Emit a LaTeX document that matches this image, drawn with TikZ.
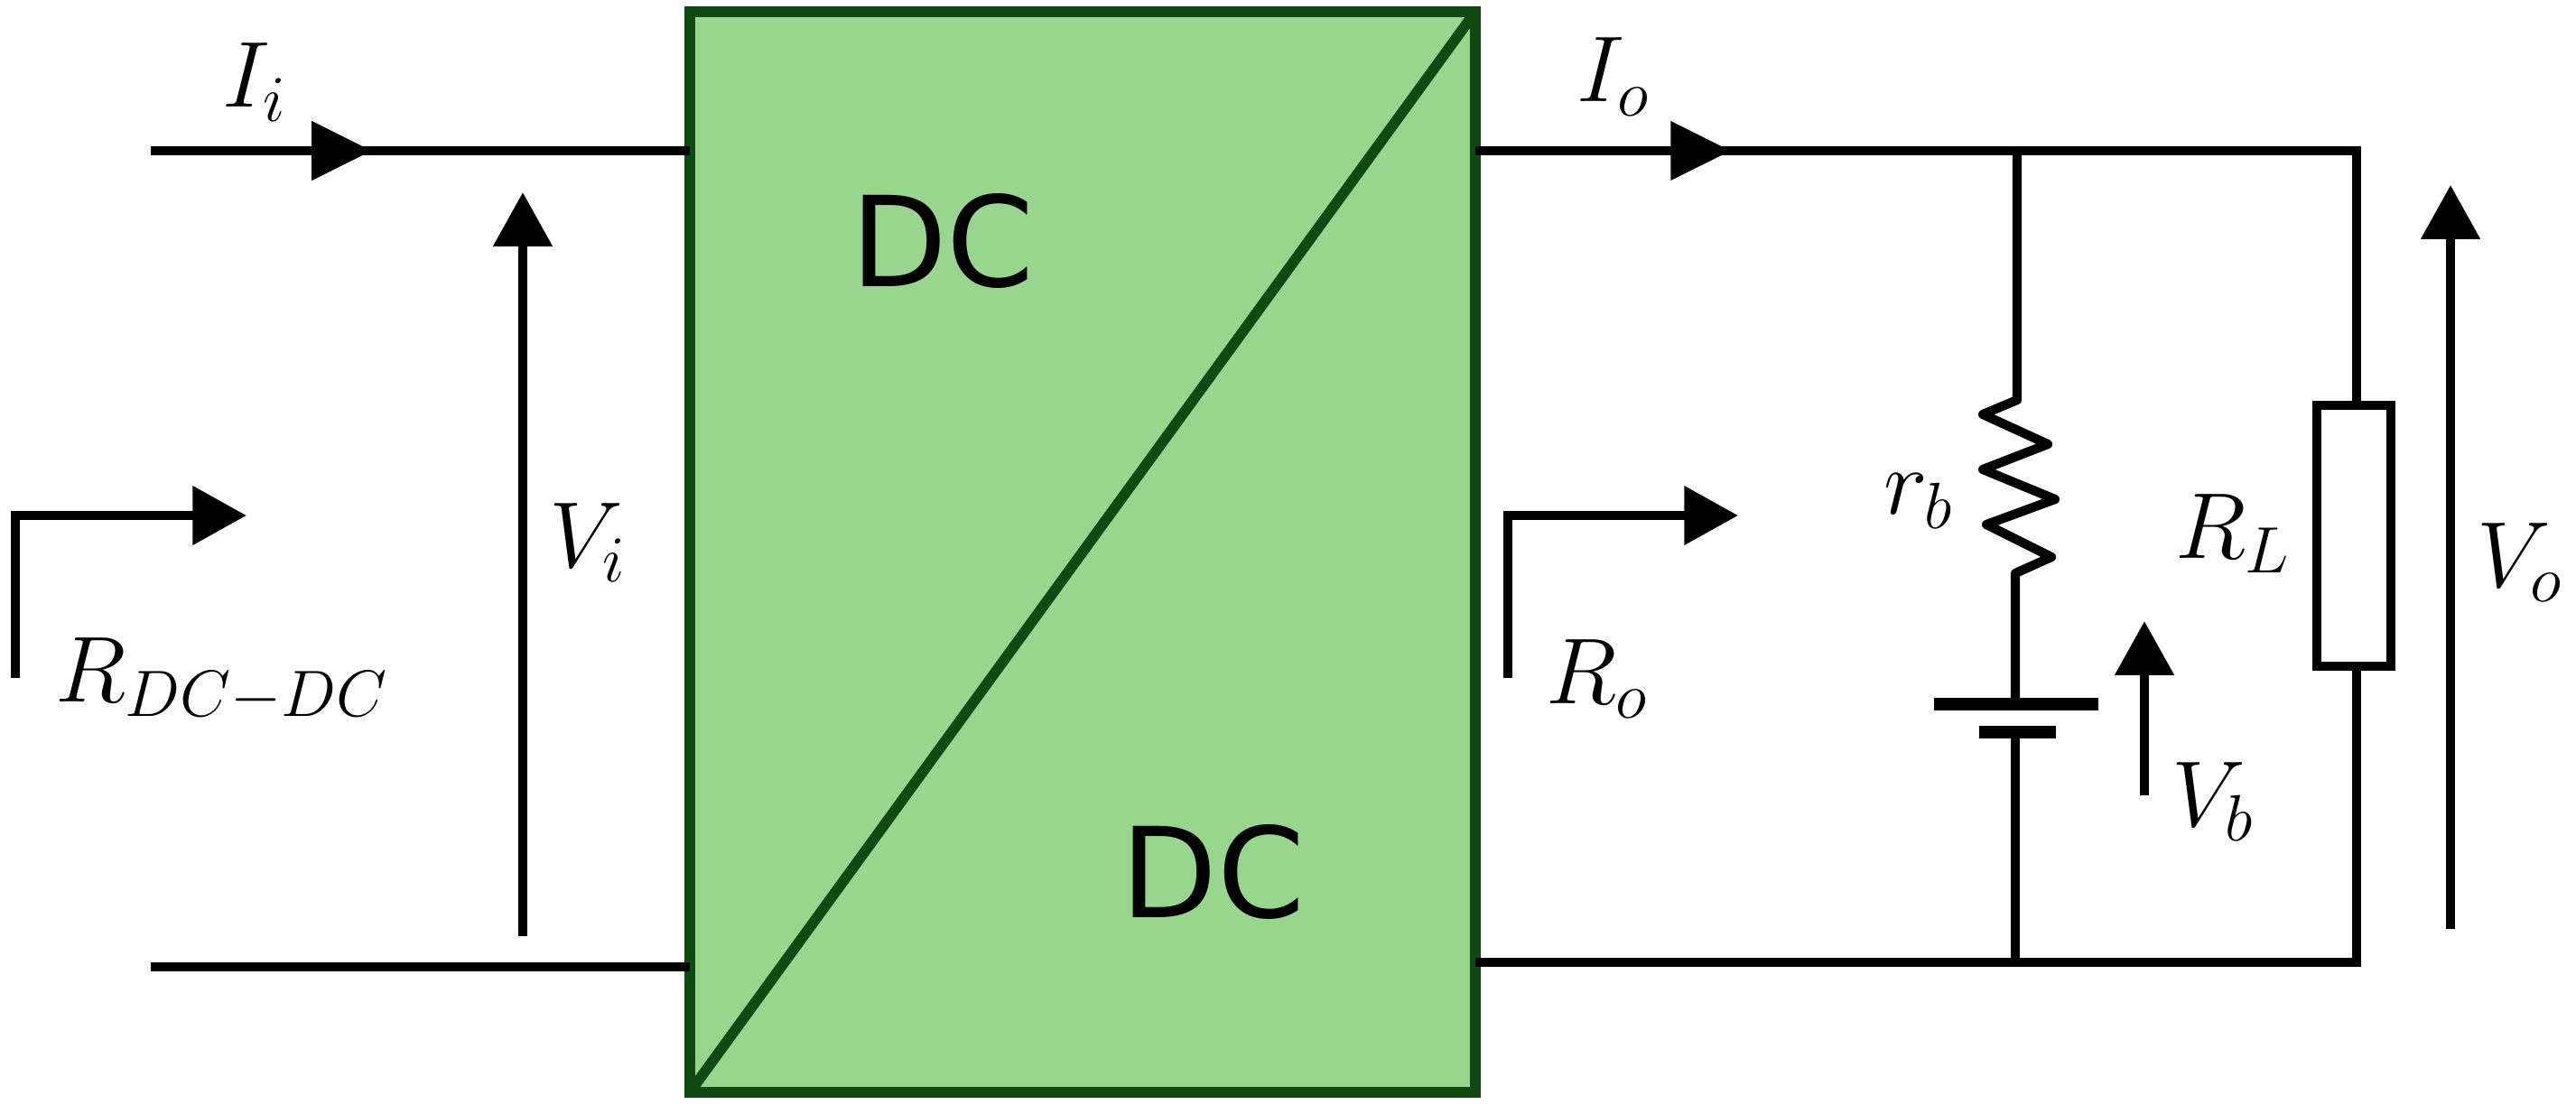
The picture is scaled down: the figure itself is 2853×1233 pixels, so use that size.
\RequirePackage{fix-cm}
\documentclass[tikz,border=0pt]{standalone}
\usepackage{fontspec}
\setmainfont{DejaVu Sans}
\usetikzlibrary{arrows.meta}
\definecolor{boxfill}{HTML}{98D58D}
\definecolor{boxline}{HTML}{0E4A12}
\tikzset{
  x=0.1mm,y=-0.1mm,
  wire/.style={line width=2.9pt,black,line join=miter},
  arrowline/.style={wire,-{Triangle[length=17pt,width=18pt]}},
  midarrow/.style={wire,-{Triangle[length=19pt,width=18pt]}},
  block/.style={draw=boxline,line width=3.2pt,fill=boxfill},
  diag/.style={draw=boxline,line width=3.3pt},
  plate/.style={line width=4.2pt,black},
  lbl/.style={inner sep=0pt,font=\fontsize{29.5}{34}\selectfont},
  dclbl/.style={inner sep=0pt,font=\fontsize{39.5}{46}\selectfont}
}
\begin{document}
\begin{tikzpicture}
\useasboundingbox (0,0) rectangle (2853,1233);
% converter block
\coordinate (bl) at (764,1210);
\coordinate (tr) at (1634,13);
\path[block] (bl) rectangle (tr);
\draw[diag] (bl) -- (tr);
\node[dclbl] (dc1) at (1044,267) {DC};
\node[dclbl] (dc2) at (1343,966) {DC};
% input wires
\coordinate (inT) at (167,167);
\coordinate (inTa) at (412,167);
\coordinate (inTc) at (385,167);
\coordinate (inTb) at (764,167);
\coordinate (inB) at (167,1071);
\coordinate (inBb) at (764,1071);
\draw[midarrow] (inT) -- (inTa);
\draw[wire] (inTc) -- (inTb);
\draw[wire] (inB) -- (inBb);
% Vi
\coordinate (viS) at (579,1037);
\coordinate (viE) at (579,213);
\draw[arrowline] (viS) -- (viE);
% R_DC-DC
\coordinate (rdS) at (17,751);
\coordinate (rdC) at (17,571);
\coordinate (rdE) at (273,571);
\draw[arrowline] (rdS) -- (rdC) -- (rdE);
% output wires
\coordinate (outT) at (1634,167);
\coordinate (outTa) at (1917,167);
\coordinate (outTc) at (1890,167);
\coordinate (jT) at (2234,167);
\coordinate (cTR) at (2610,167);
\coordinate (cBR) at (2610,1066);
\coordinate (jB) at (2232,1066);
\coordinate (outB) at (1634,1066);
\draw[midarrow] (outT) -- (outTa);
\draw[wire] (outTc) -- (jT) -- (cTR) -- (2610,447);
\draw[wire] (2610,736) -- (cBR) -- (jB) -- (outB);
% Ro
\coordinate (roS) at (1670,751);
\coordinate (roC) at (1670,571);
\coordinate (roE) at (1925,571);
\draw[arrowline] (roS) -- (roC) -- (roE);
% rb branch
\draw[wire,line join=round] (jT) -- (2234,443) -- (2196,459) -- (2268,492) -- (2196,520) -- (2276,553) -- (2200,581) -- (2272,617) -- (2232,635) -- (2232,780);
\draw[plate] (2142,780) -- (2324,780);
\draw[plate] (2192,811) -- (2277,811);
\draw[wire] (2232,811) -- (jB);
% RL
\node[draw=black,line width=2.8pt,fill=white,inner sep=0pt,anchor=north west,
  minimum width=8.2mm,minimum height=28.9mm] (rl) at (2561,444) {};
% Vb, Vo
\coordinate (vbS) at (2375,881);
\coordinate (vbE) at (2375,688);
\draw[arrowline] (vbS) -- (vbE);
\coordinate (voS) at (2714,1029);
\coordinate (voE) at (2714,205);
\draw[arrowline] (voS) -- (voE);
% labels
\node[lbl] (li) at (282,91) {$I_i$};
\node[lbl] (lvi) at (651,601) {$V_i$};
\node[lbl] (lrd) at (246,753) {$R_{DC-DC}$};
\node[lbl] (lio) at (1787,85) {$I_o$};
\node[lbl] (lro) at (1769,752) {$R_o$};
\node[lbl] (lrb) at (2125,555) {$r_b$};
\node[lbl] (lrl) at (2473,591) {$R_L$};
\node[lbl] (lvo) at (2791,623) {$V_o$};
\node[lbl] (lvb) at (2451,888) {$V_b$};
\end{tikzpicture}
\end{document}
